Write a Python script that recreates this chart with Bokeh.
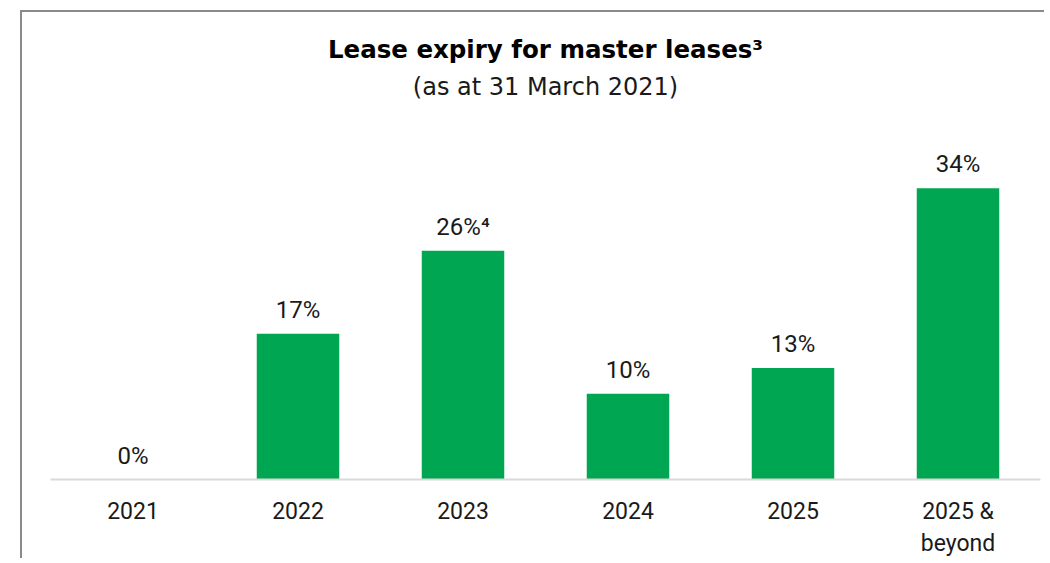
from bokeh.plotting import figure
from bokeh.models import Range1d, Title
from bokeh.core.properties import value
from bokeh.embed import file_html
from bokeh.resources import INLINE

categories = ["2021", "2022", "2023", "2024", "2025", "2025 &\nbeyond"]
shares = [0, 17, 26.7, 10, 13, 34]
bar_labels = ["0%", "17%", "26%\u2074", "10%", "13%", "34%"]
title_text = "Lease expiry for master leases\u00b3"
subtitle_text = "(as at 31 March 2021)"

GREEN = "#00a651"
FONT = "Roboto"

p = figure(
    x_range=categories,
    y_range=Range1d(0, 40.85),
    width=1024,
    height=548,
    output_backend="svg",
    toolbar_location=None,
    min_border_left=28,
    min_border_right=6,
    min_border_top=117,
    min_border_bottom=81,
    y_axis_location=None,
)
p.styles = {
    "margin-left": "20px",
    "margin-top": "10px",
    "border-left": "2px solid #8a8a8a",
    "border-top": "2px solid #8a8a8a",
}
p.outline_line_color = None
p.xgrid.grid_line_color = None
p.ygrid.grid_line_color = None
p.background_fill_color = "white"
p.border_fill_color = "white"

p.vbar(x=categories, top=shares, width=0.5, fill_color=GREEN, line_color=None)
p.text(
    x=categories,
    y=shares,
    text=bar_labels,
    text_align="center",
    text_baseline="alphabetic",
    y_offset=-24,
    text_font=value(FONT),
    text_font_size="24px",
    text_color="#1a1a1a",
)

ax = p.xaxis[0]
ax.axis_line_color = "#d9d9d9"
ax.axis_line_width = 2
ax.major_tick_line_color = None
ax.minor_tick_line_color = None
ax.major_tick_out = 0
ax.major_tick_in = 0
ax.major_label_standoff = 18
ax.major_label_text_font = FONT
ax.major_label_text_font_size = "23px"
ax.major_label_text_color = "#1a1a1a"

sub = Title(text=subtitle_text, align="center", text_font="DejaVu Sans",
            text_font_size="24px", text_font_style="normal", text_color="#1a1a1a",
            standoff=57)
main = Title(text=title_text, align="center", text_font="DejaVu Sans",
             text_font_size="24.5px", text_font_style="bold", text_color="#000000",
             standoff=-42)
p.add_layout(sub, "above")
p.add_layout(main, "above")

open("out.html", "w").write(file_html(p, INLINE))
